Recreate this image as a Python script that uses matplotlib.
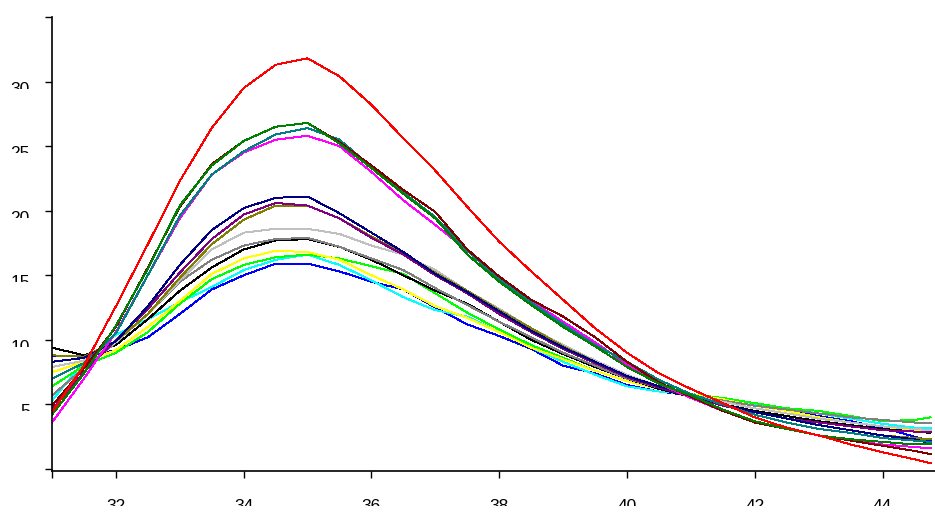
import matplotlib
matplotlib.use("Agg")
import matplotlib.pyplot as plt
from matplotlib.transforms import Bbox

# temperature axis (sampled every half unit, last point at the right edge)
x = [31.0, 31.5, 32.0, 32.5, 33.0, 33.5, 34.0, 34.5, 35.0, 35.5,
     36.0, 36.5, 37.0, 37.5, 38.0, 38.5, 39.0, 39.5, 40.0, 40.5,
     41.0, 41.5, 42.0, 42.5, 43.0, 43.5, 44.0, 44.5, 44.75]

red = [4.4, 8.0, 12.6, 17.4, 22.3, 26.4, 29.5, 31.3, 31.8, 30.4,
       28.2, 25.6, 23.1, 20.3, 17.6, 15.3, 13.1, 10.9, 9.0, 7.4,
       6.2, 5.1, 4.0, 3.2, 2.6, 1.9, 1.3, 0.75, 0.45]
green = [4.2, 7.4, 11.1, 15.5, 20.4, 23.5, 25.4, 26.5, 26.8, 25.2,
         23.3, 21.3, 19.4, 16.6, 14.5, 12.7, 11.0, 9.5, 7.9, 6.6,
         5.7, 4.6, 3.7, 3.1, 2.6, 2.3, 2.1, 1.9, 1.9]
maroon = [4.9, 7.8, 11.0, 15.6, 20.3, 23.6, 25.4, 26.5, 26.8, 25.3,
          23.5, 21.6, 19.9, 17.0, 14.9, 13.1, 11.8, 10.2, 8.3, 6.7,
          5.6, 4.5, 3.6, 3.1, 2.6, 2.2, 1.8, 1.4, 1.15]
teal = [7.0, 8.2, 10.5, 15.0, 19.6, 22.8, 24.6, 25.9, 26.4, 25.5,
        23.4, 21.4, 19.5, 16.9, 14.7, 12.9, 11.2, 9.6, 8.3, 6.9,
        5.8, 5.0, 4.2, 3.6, 3.1, 2.8, 2.4, 2.2, 2.1]
magenta = [3.6, 7.0, 10.6, 15.0, 19.4, 22.8, 24.5, 25.5, 25.8, 25.0,
           23.0, 20.8, 18.9, 16.9, 14.9, 13.0, 11.4, 9.8, 8.1, 6.6,
           5.5, 4.5, 3.7, 3.1, 2.6, 2.2, 1.9, 1.7, 1.6]
navy = [8.3, 8.6, 9.9, 12.6, 15.8, 18.5, 20.2, 21.0, 21.1, 19.8,
        18.3, 16.8, 15.1, 13.7, 12.2, 10.7, 9.4, 8.3, 7.2, 6.4,
        5.7, 5.0, 4.4, 3.9, 3.4, 3.0, 2.6, 2.3, 2.0]
purple = [4.6, 7.5, 10.0, 12.4, 15.2, 17.8, 19.7, 20.6, 20.4, 19.4,
          17.9, 16.6, 15.0, 13.6, 12.0, 10.6, 9.3, 8.2, 7.1, 6.3,
          5.6, 4.9, 4.4, 3.9, 3.6, 3.3, 3.0, 2.9, 2.85]
olive = [8.8, 8.7, 9.9, 12.0, 14.8, 17.4, 19.3, 20.4, 20.4, 19.4,
         18.0, 16.7, 15.2, 13.8, 12.3, 10.9, 9.5, 8.3, 7.2, 6.4,
         5.6, 5.0, 4.4, 3.9, 3.4, 3.0, 2.6, 2.4, 2.3]
silver = [7.9, 8.4, 9.8, 12.0, 14.6, 17.0, 18.3, 18.6, 18.6, 18.2,
          17.3, 16.6, 15.4, 13.8, 12.4, 10.9, 9.6, 8.4, 7.3, 6.4,
          5.7, 5.2, 4.7, 4.3, 3.9, 3.6, 3.3, 3.1, 3.0]
gray = [5.7, 7.8, 9.8, 12.0, 14.5, 16.2, 17.3, 17.8, 17.9, 17.2,
        16.3, 15.4, 14.0, 12.7, 11.4, 10.2, 9.0, 8.0, 7.0, 6.3,
        5.7, 5.3, 4.9, 4.6, 4.3, 4.0, 3.8, 3.6, 3.55]
black = [9.4, 8.8, 9.6, 11.6, 13.8, 15.6, 17.0, 17.7, 17.8, 17.2,
         16.2, 15.0, 13.8, 12.8, 11.4, 10.0, 8.9, 7.9, 7.0, 6.2,
         5.6, 5.0, 4.5, 4.1, 3.7, 3.4, 3.1, 2.9, 2.8]
yellow = [7.5, 8.3, 9.2, 11.0, 13.0, 15.1, 16.3, 16.9, 16.8, 16.2,
          15.0, 13.9, 12.6, 11.7, 10.6, 9.4, 8.5, 7.6, 6.8, 6.2,
          5.8, 5.4, 4.9, 4.5, 4.0, 3.6, 3.3, 3.0, 2.9]
lime = [6.4, 8.0, 9.0, 10.6, 12.8, 14.7, 15.8, 16.4, 16.6, 16.3,
        15.7, 15.1, 13.6, 12.1, 10.8, 9.6, 8.6, 7.6, 6.8, 6.2,
        5.8, 5.5, 5.1, 4.7, 4.5, 4.1, 3.7, 3.8, 4.0]
cyan = [5.3, 8.3, 10.4, 11.6, 12.9, 14.1, 15.4, 16.2, 16.6, 15.8,
        14.6, 13.3, 12.3, 11.8, 10.6, 9.4, 8.3, 7.3, 6.4, 6.0,
        5.8, 5.5, 5.0, 4.7, 4.3, 3.9, 3.5, 3.2, 3.15]
blue = [8.75, 8.7, 9.2, 10.2, 12.0, 13.9, 15.0, 15.9, 15.9, 15.3,
        14.5, 13.9, 12.5, 11.2, 10.3, 9.3, 8.0, 7.4, 6.5, 6.0,
        5.7, 5.3, 4.9, 4.5, 4.1, 3.7, 3.2, 2.5, 2.2]

series = [
    (blue, "#0000ff"), (cyan, "#00ffff"), (lime, "#00ff00"),
    (yellow, "#ffff00"), (black, "#000000"), (gray, "#808080"),
    (silver, "#c0c0c0"), (olive, "#808000"), (purple, "#800080"),
    (navy, "#000080"), (magenta, "#ff00ff"), (teal, "#008080"),
    (maroon, "#800000"), (green, "#008000"), (red, "#ff0000"),
]

xticks = [31, 32, 34, 36, 38, 40, 42, 44]
xtick_labels = ["", "32", "34", "36", "38", "40", "42", "44"]
yticks = [0, 5, 10, 15, 20, 25, 30, 35]
ytick_labels = ["", "5", "10", "15", "20", "25", "30", ""]

fig = plt.figure(figsize=(9.35, 5.25), dpi=100)
ax = fig.add_axes([52 / 935, 54 / 525, 1 - 52 / 935, 454 / 525])

for ys, color in series:
    ax.plot(x, ys, color=color, lw=0.7, antialiased=False)

ax.set_xlim(31, 44.82)
ax.set_ylim(-0.155, 35)
ax.set_xticks(xticks)
ax.set_xticklabels(xtick_labels, fontfamily="Liberation Sans", fontsize=12.5)
ax.set_yticks(yticks)
ax.set_yticklabels(ytick_labels, fontfamily="Liberation Sans", fontsize=12.5)
for lbl in ax.get_yticklabels():
    lbl.set_va("top")

ax.spines["top"].set_visible(False)
ax.spines["right"].set_visible(False)
for side in ("left", "bottom"):
    ax.spines[side].set_linewidth(1.2)
ax.tick_params(axis="x", direction="out", length=5, width=1.0, pad=15)
ax.tick_params(axis="y", direction="out", length=5, width=1.0, pad=11)

# the labels in the original are cut in half, only the top part shows
fig.canvas.draw()
for lbl in ax.get_xticklabels() + ax.get_yticklabels():
    if not lbl.get_text():
        continue
    ext = lbl.get_window_extent()
    lbl.set_clip_box(Bbox([[ext.x0 - 2, ext.y1 - 7], [ext.x1 + 2, ext.y1 + 2]]))
    lbl.set_clip_on(True)

fig.savefig("out.png", dpi=100)
